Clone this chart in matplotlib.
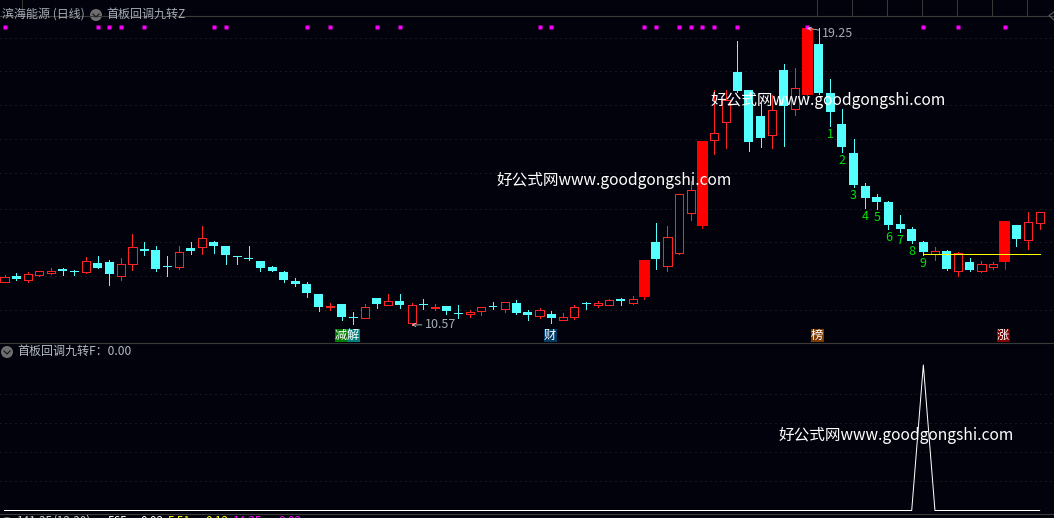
import matplotlib
matplotlib.use("Agg")
import matplotlib.pyplot as plt
from matplotlib.lines import Line2D
from matplotlib.patches import Circle, Rectangle

plt.rcParams['font.family'] = ['Noto Sans CJK SC', 'DejaVu Sans']

# daily candles, index 0..89
opens = [11.82, 12.00, 11.89, 12.04, 12.10, 12.19, 12.16, 12.13, 12.37, 12.40,
         12.01, 12.36, 12.78, 12.75, 12.30, 12.25, 12.82, 12.86, 13.00, 12.87,
         12.59, 12.53, 12.43, 12.26, 12.11, 11.86, 11.77, 11.48, 11.08, 11.17,
         10.79, 10.76, 11.35, 11.15, 11.26, 10.62, 11.18, 11.05, 11.12, 10.91,
         10.88, 10.99, 11.13, 11.02, 11.20, 10.95, 10.84, 10.88, 10.71, 10.81,
         11.22, 11.15, 11.15, 11.33, 11.22, 11.39, 13.00, 12.28, 12.68, 13.85,
         13.46, 15.99, 16.49, 17.97, 17.44, 16.68, 16.13, 18.03, 16.89, 17.30,
         18.79, 17.35, 16.45, 15.60, 14.63, 14.31, 14.17, 13.52, 13.38, 13.00,
         12.65, 12.73, 12.15, 12.41, 12.15, 12.27, 12.41, 13.49, 13.06, 13.56]
closes = [11.96, 11.91, 12.05, 12.14, 12.14, 12.16, 12.13, 12.43, 12.22, 12.07,
          12.34, 12.84, 12.74, 12.19, 12.27, 12.70, 12.73, 13.10, 12.89, 12.60,
          12.56, 12.50, 12.22, 12.16, 11.89, 11.78, 11.49, 11.08, 11.12, 10.81,
          10.76, 11.09, 11.17, 11.26, 11.16, 11.15, 11.15, 11.09, 10.99, 10.88,
          10.94, 11.10, 11.08, 11.23, 10.92, 10.87, 11.00, 10.78, 10.79, 11.09,
          11.19, 11.20, 11.29, 11.26, 11.32, 12.47, 12.50, 13.13, 14.39, 14.51,
          15.95, 16.18, 17.15, 17.41, 15.92, 16.04, 16.85, 16.97, 17.49, 19.25,
          17.35, 16.80, 15.77, 14.66, 14.28, 14.17, 13.49, 13.38, 13.03, 12.70,
          12.72, 12.21, 12.67, 12.18, 12.35, 12.35, 13.61, 13.08, 13.57, 13.87]
highs = [12.02, 12.08, 12.12, 12.14, 12.23, 12.24, 12.18, 12.56, 12.59, 12.46,
         12.53, 13.23, 13.00, 12.88, 12.59, 12.88, 13.00, 13.47, 13.03, 12.87,
         12.59, 12.88, 12.43, 12.30, 12.15, 11.93, 11.83, 11.48, 11.21, 11.17,
         10.95, 11.18, 11.35, 11.48, 11.48, 11.20, 11.33, 11.18, 11.12, 11.15,
         11.01, 11.10, 11.24, 11.23, 11.30, 11.01, 11.07, 10.97, 10.92, 11.16,
         11.24, 11.26, 11.33, 11.36, 11.41, 12.47, 13.55, 13.47, 14.39, 14.78,
         15.95, 17.44, 17.44, 18.87, 17.44, 17.06, 17.30, 18.20, 18.08, 19.25,
         19.25, 17.76, 16.89, 16.01, 14.72, 14.40, 14.20, 13.79, 13.44, 13.03,
         12.85, 12.76, 12.70, 12.53, 12.44, 12.41, 13.61, 13.49, 13.87, 13.87]
lows = [11.82, 11.89, 11.83, 12.00, 12.06, 12.03, 12.03, 12.10, 12.22, 11.74,
        11.89, 12.18, 12.62, 12.15, 12.00, 12.20, 12.65, 12.65, 12.68, 12.35,
        12.35, 12.47, 12.15, 12.15, 11.83, 11.71, 11.39, 10.98, 11.01, 10.72,
        10.60, 10.76, 11.07, 11.15, 11.07, 10.57, 11.04, 11.01, 10.89, 10.77,
        10.80, 10.86, 11.04, 10.95, 10.89, 10.70, 10.77, 10.63, 10.71, 10.75,
        11.04, 11.10, 11.15, 11.16, 11.18, 11.33, 12.21, 12.15, 12.65, 13.64,
        13.41, 15.57, 15.75, 17.38, 15.66, 15.77, 15.75, 15.80, 16.71, 17.12,
        17.32, 16.39, 15.63, 14.61, 13.99, 13.96, 13.38, 13.29, 12.97, 12.62,
        12.47, 12.18, 12.00, 12.15, 12.12, 12.21, 12.21, 12.88, 12.79, 13.38]
limit_up = [55, 60, 69, 86]
signal_days = [0, 8, 9, 10, 12, 18, 19, 26, 28, 32, 34, 46, 47, 55, 56, 58, 59,
               60, 61, 63, 69, 79, 82, 86]
count_days = [71, 72, 73, 74, 75, 76, 77, 78, 79]
count_labels = ['1', '2', '3', '4', '5', '6', '7', '8', '9']
support_days = [79, 89]
support_price = [12.64, 12.64]
price_grid = [18.97, 17.99, 17.00, 16.00, 15.00, 13.97, 12.99, 11.99, 11.00]

indicator_f = [0.0] * 79 + [1.0] + [0.0] * 10
f_grid = [0.2, 0.4, 0.6, 0.8]

BG = '#02020c'
RED = '#ff2424'
CYAN = '#54ffff'
GREY = '#a4acb4'
SEP = '#3a3a3a'
GRID = '#2c2c2c'

W, H = 1054, 518
XLIM = (-0.39, 90.235)
PX = 0.72  # one pixel at dpi 100


def panel(top, bottom):
    return fig.add_axes([0, 1 - bottom / H, 1, (bottom - top) / H], facecolor='none')


def style(ax, ticks):
    ax.set_xlim(*XLIM)
    ax.set_xticks([])
    ax.set_yticks(ticks)
    ax.tick_params(length=0, labelleft=False)
    ax.grid(axis='y', color=GRID, lw=PX, ls=(0, (1, 4)))
    ax.set_axisbelow(True)
    for s in ax.spines.values():
        s.set_visible(False)


fig = plt.figure(figsize=(W / 100, H / 100), dpi=100, facecolor=BG)

# price panel
ax1 = panel(16, 343)
style(ax1, price_grid)
ax1.set_ylim(10.04, 19.605)

for i in range(len(opens)):
    up = closes[i] >= opens[i]
    c = RED if up else CYAN
    lim = i in limit_up
    if lim:
        c = '#ff0000'
    ax1.vlines(i, lows[i], highs[i], color=c, lw=PX, antialiased=False, zorder=2)
    lo, hi = min(opens[i], closes[i]), max(opens[i], closes[i])
    if up and not lim:
        ax1.bar(i, hi - lo, 0.70, bottom=lo, facecolor=BG, edgecolor=c, lw=PX,
                antialiased=False, zorder=3)
    else:
        ax1.bar(i, hi - lo, 0.95 if lim else 0.77, bottom=lo, color=c, lw=0,
                antialiased=False, zorder=3)

ax1.plot(support_days, support_price, color='#ffff00', lw=PX, antialiased=False, zorder=4)

for d, s in zip(count_days, count_labels):
    ax1.annotate(s, (d, lows[d]), xytext=(0, -6), textcoords='offset points',
                 ha='center', va='center', color='#00e000', fontsize=9, zorder=5)

ax1.plot(signal_days, [19.29] * len(signal_days), ls='none', marker='s', ms=2.6,
         mfc='#ff00ff', mec='none', zorder=5)

arrow = dict(arrowstyle='->', color='#c8c8c8', lw=0.6, mutation_scale=6, shrinkA=0, shrinkB=0)
ax1.annotate('10.57', (35, 10.57), xytext=(9.4, 0), textcoords='offset points', ha='left',
             va='center', color=GREY, fontsize=9, arrowprops=arrow, zorder=6)
ax1.annotate('19.25', (69, 19.25), xytext=(10.5, -3.6), textcoords='offset points', ha='left',
             va='center', color=GREY, fontsize=9, arrowprops=arrow, zorder=6)

# indicator panel
ax2 = panel(343, 514)
style(ax2, f_grid)
ax2.set_ylim(-0.02405, 1.1512)
ax2.plot(range(len(indicator_f)), indicator_f, color='white', lw=PX)

# overlay in pixel coordinates for headers, badges and watermarks
ov = fig.add_axes([0, 0, 1, 1], facecolor='none')
ov.set_xlim(0, W)
ov.set_ylim(H, 0)
ov.axis('off')

for y in (16, 343, 514):
    ov.add_line(Line2D([0, W], [y, y], color=SEP, lw=0.8))
for x in (22, 817, 852, 887, 922, 957, 992, 1027):
    ov.add_line(Line2D([x, x], [0, 15], color=SEP, lw=0.7))
ov.add_line(Line2D([1054, 1049, 1054], [12, 15.5, 20], color='#666666', lw=0.7))


def chevron(x, y):
    ov.add_patch(Circle((x, y), 6, color='#6e6e6e', lw=0))
    ov.add_line(Line2D([x - 3, x, x + 3], [y - 1, y + 2, y - 1], color='#1c1c1c', lw=0.9))


chevron(96, 15)
chevron(7, 352)
ov.text(2, 14.5, '滨海能源 (日线)', color=GREY, fontsize=8.65, va='center', ha='left')
ov.text(106, 14.5, '首板回调九转Z', color=GREY, fontsize=8.65, va='center', ha='left')
ov.text(17, 351.5, '首板回调九转F：0.00', color='#b4bcc6', fontsize=8.65, va='center', ha='left')

badge_text = ['减', '解', '财', '榜', '涨']
badge_x = [341, 353, 550, 817, 1003]
badge_color = ['#007a00', '#008080', '#003a66', '#7a3a00', '#800000']
for s, x, c in zip(badge_text, badge_x, badge_color):
    ov.add_patch(Rectangle((x - 6.5, 329), 13, 13, color=c, lw=0))
    ov.text(x, 335.3, s, color='white', fontsize=8.8, ha='center', va='center')

for x, y in ((497, 180), (711, 100), (779, 435)):
    ov.text(x, y, '好公式网www.goodgongshi.com', color='white', fontsize=11.25, ha='left',
            va='center', zorder=10)

# bottom status row, only the top of it is inside the picture
ov.add_patch(Circle((7, 523), 6, color='#6e6e6e', lw=0))
for x, s, c in ((17, '141.35/12.30)', '#d0d0d0'), (108, '565', 'white'),
                (140, '0.02', 'white'), (168, '5.51', '#ffff00'),
                (205, '0.12', '#ffff00'), (233, '14.35', '#ff00ff'),
                (278, '0.02', '#ff00ff')):
    ov.text(x, 521.5, s, color=c, fontsize=8.5, ha='left', va='center', clip_on=False)

fig.savefig('out.png', dpi=100, facecolor=BG)
